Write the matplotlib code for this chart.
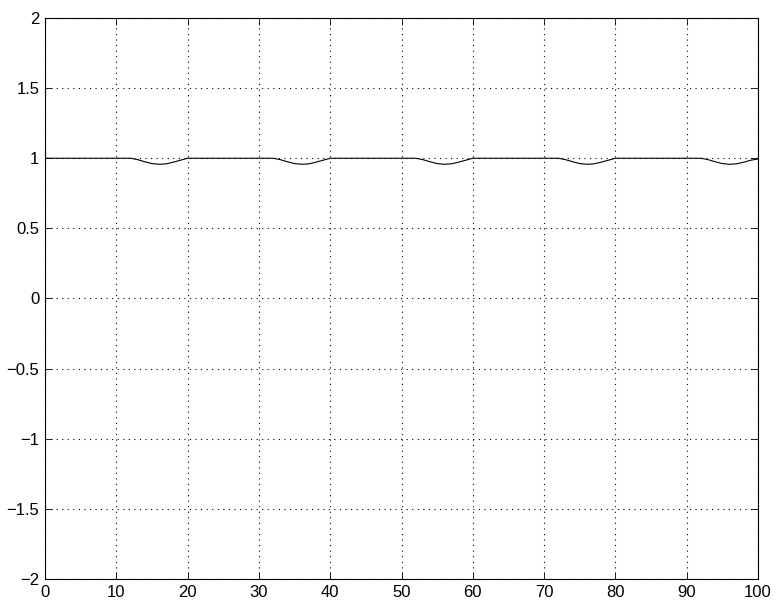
import matplotlib
matplotlib.use("Agg")
import matplotlib.pyplot as plt

x_vals = [0, 12, 13, 14, 15, 16, 17, 18, 19, 20,
          32, 33, 34, 35, 36, 37, 38, 39, 40,
          52, 53, 54, 55, 56, 57, 58, 59, 60,
          72, 73, 74, 75, 76, 77, 78, 79, 80,
          92, 93, 94, 95, 96, 97, 98, 99, 100]
y_vals = [1.0, 1.0, 0.99, 0.975, 0.962, 0.957, 0.96, 0.972, 0.986, 1.0,
          1.0, 0.99, 0.975, 0.962, 0.957, 0.96, 0.972, 0.986, 1.0,
          1.0, 0.99, 0.975, 0.962, 0.957, 0.96, 0.972, 0.986, 1.0,
          1.0, 0.99, 0.975, 0.962, 0.957, 0.96, 0.972, 0.986, 1.0,
          1.0, 0.99, 0.975, 0.962, 0.957, 0.96, 0.972, 0.986, 0.995]
x_ticks = [0, 10, 20, 30, 40, 50, 60, 70, 80, 90, 100]
y_ticks = [-2, -1.5, -1, -0.5, 0, 0.5, 1, 1.5, 2]
y_labels = ["\u22122", "\u22121.5", "\u22121", "\u22120.5", "0", "0.5", "1", "1.5", "2"]

plt.rcParams['font.family'] = ['Liberation Sans', 'DejaVu Sans']

fig = plt.figure(figsize=(7.79, 6.09), dpi=100)
ax = fig.add_axes([45/779, 1-579/609, (758-45)/779, (579-18)/609])
ax.plot(x_vals, y_vals, color='black', linewidth=0.8)
ax.set_xlim(0, 100)
ax.set_ylim(-2, 2)
ax.set_xticks(x_ticks)
ax.set_yticks(y_ticks)
ax.set_yticklabels(y_labels)
ax.grid(True, color='black', linestyle=(0, (1, 4)), linewidth=0.8)
ax.tick_params(direction='in', top=True, right=True, labelsize=12, length=5, width=0.6)
ax.tick_params(axis='x', pad=4)
ax.tick_params(axis='y', pad=4)
for s in ax.spines.values():
    s.set_linewidth(0.8)
fig.savefig("out.png", dpi=100)
